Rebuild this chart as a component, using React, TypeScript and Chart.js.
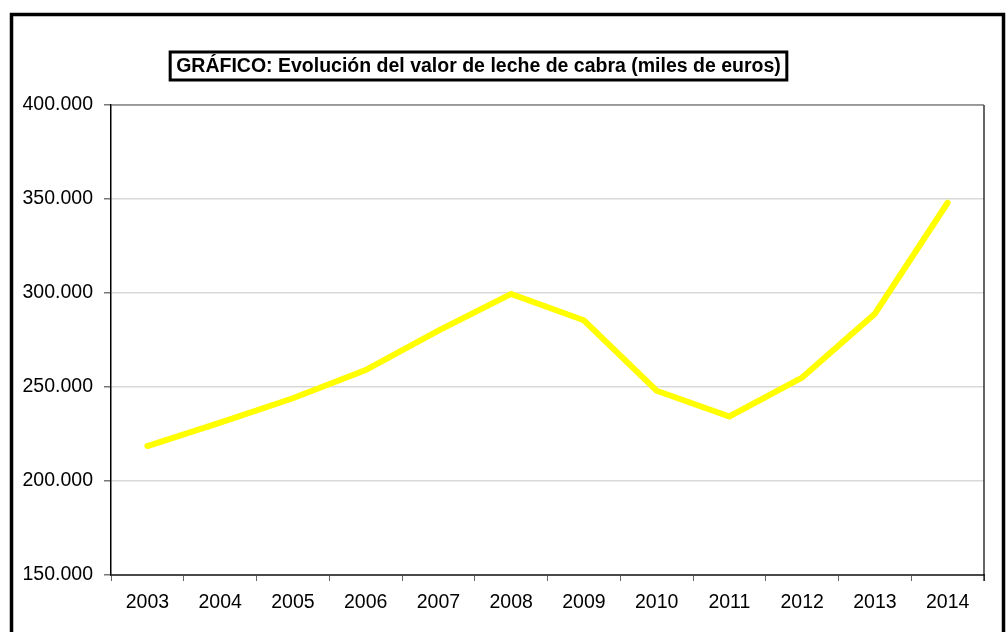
import React, { useEffect, useRef } from "react";
import { Chart, registerables } from "chart.js";

Chart.register(...registerables);

const years = ["2003", "2004", "2005", "2006", "2007", "2008", "2009", "2010", "2011", "2012", "2013", "2014"];
const valores = [218600, 231000, 244000, 259000, 280000, 299500, 285500, 248000, 234300, 255000, 289000, 348000];
const titulo = "GRÁFICO: Evolución del valor de leche de cabra (miles de euros)";
const yMin = 150000;
const yMax = 400000;
const yStep = 50000;

function fmt(v: number): string {
  const s = Math.round(v).toString();
  return s.replace(/\B(?=(\d{3})+(?!\d))/g, ".");
}

const framePlugin = {
  id: "frame",
  beforeDraw(chart: any) {
    const ctx = chart.ctx;
    ctx.save();
    ctx.fillStyle = "#ffffff";
    ctx.fillRect(0, 0, chart.width, chart.height);
    ctx.strokeStyle = "#000000";
    ctx.lineWidth = 3.5;
    ctx.strokeRect(11.5, 14.5, 992, 640);
    ctx.restore();
  },
  afterDraw(chart: any) {
    const ctx = chart.ctx;
    const a = chart.chartArea;
    ctx.save();
    ctx.strokeStyle = "#000000";
    ctx.lineWidth = 1.2;
    ctx.beginPath();
    ctx.moveTo(a.right, a.top);
    ctx.lineTo(a.right, a.bottom + 6);
    ctx.stroke();
    ctx.strokeStyle = "#555555";
    ctx.beginPath();
    ctx.moveTo(a.left, a.top);
    ctx.lineTo(a.right, a.top);
    ctx.stroke();
    // title box
    ctx.font = "bold 19.5px 'Liberation Sans', Arial, sans-serif";
    const tw = ctx.measureText(titulo).width;
    const cx = 478.5;
    const cy = 66;
    const bw = tw + 12;
    const bh = 28;
    ctx.fillStyle = "#ffffff";
    ctx.fillRect(cx - bw / 2, cy - bh / 2, bw, bh);
    ctx.strokeStyle = "#000000";
    ctx.lineWidth = 3;
    ctx.strokeRect(cx - bw / 2, cy - bh / 2, bw, bh);
    ctx.fillStyle = "#000000";
    ctx.textAlign = "center";
    ctx.textBaseline = "middle";
    ctx.fillText(titulo, cx, cy + 1);
    ctx.restore();
  },
};

export default function App() {
  const ref = useRef<HTMLCanvasElement>(null);
  useEffect(() => {
    if (!ref.current) return;
    const chart = new Chart(ref.current, {
      type: "line",
      data: {
        labels: years,
        datasets: [
          {
            data: valores,
            borderColor: "#ffff00",
            borderWidth: 6,
            pointRadius: 0,
            tension: 0,
            fill: false,
            borderCapStyle: "round",
            borderJoinStyle: "miter",
          },
        ],
      },
      options: {
        animation: false,
        responsive: false,
        maintainAspectRatio: false,
        layout: { padding: { top: 105, right: 24, left: 0, bottom: 0 } },
        plugins: {
          legend: { display: false },
          title: { display: false },
          tooltip: { enabled: false },
        },
        scales: {
          x: {
            type: "category",
            offset: true,
            grid: {
              display: true,
              offset: true,
              drawOnChartArea: false,
              drawTicks: true,
              tickLength: 6,
              color: "#666666",
            },
            border: { display: true, color: "#4a4a4a", width: 2 },
            ticks: {
              color: "#000000",
              font: { family: "'Liberation Sans', Arial, sans-serif", size: 19.5 },
              padding: 10,
              maxRotation: 0,
              autoSkip: false,
            },
            afterFit(scale: any) {
              scale.height = 57;
            },
          },
          y: {
            min: yMin,
            max: yMax,
            grid: {
              color: "#d9d9d9",
              lineWidth: 1.5,
              drawTicks: true,
              tickLength: 7,
              tickColor: "#777777",
            },
            border: { display: true, color: "#000000", width: 1.5 },
            ticks: {
              stepSize: yStep,
              color: "#000000",
              font: { family: "'Liberation Sans', Arial, sans-serif", size: 19.5 },
              padding: 11,
              callback: (v: any) => fmt(Number(v)),
            },
            afterFit(scale: any) {
              scale.width = 111;
            },
          },
        },
      },
      plugins: [framePlugin],
    } as any);
    return () => chart.destroy();
  }, []);
  return (
    <div style={{ position: "fixed", left: 0, top: 0, width: 1008, height: 632, background: "#fff" }}>
      <canvas ref={ref} width={1008} height={632} style={{ display: "block" }} />
    </div>
  );
}
